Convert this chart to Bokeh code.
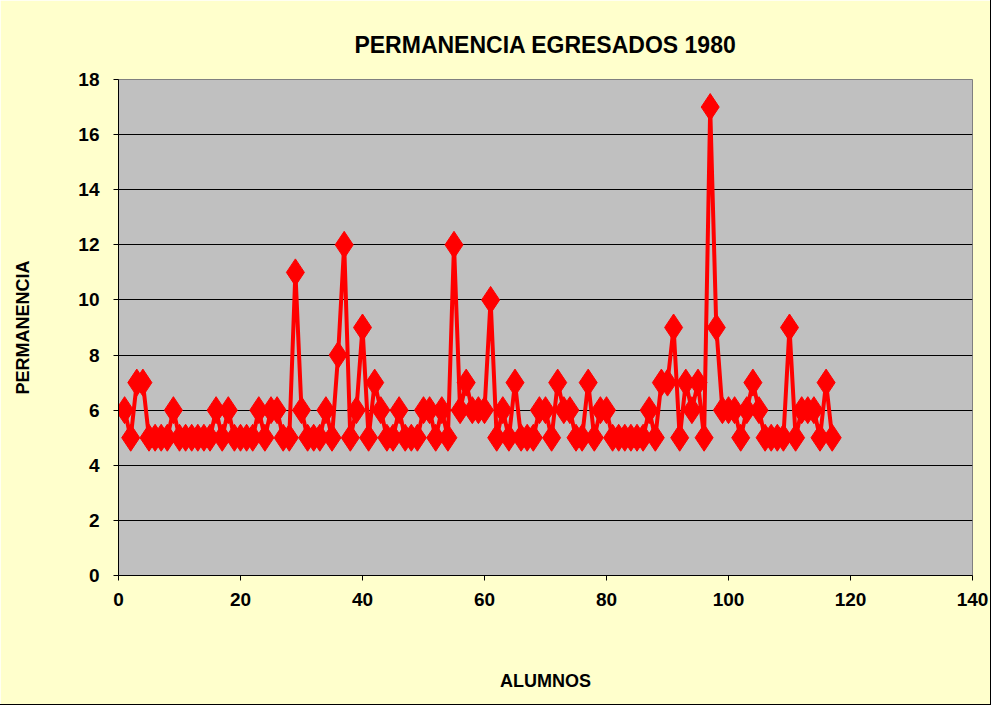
from bokeh.plotting import figure
from bokeh.models import Range1d, FixedTicker
from bokeh.embed import file_html
from bokeh.resources import INLINE

alumnos = list(range(1, 118))
permanencia = [
    6, 5, 7, 7, 5, 5, 5, 5, 6, 5,
    5, 5, 5, 5, 5, 6, 5, 6, 5, 5,
    5, 5, 6, 5, 6, 6, 5, 5, 11, 6,
    5, 5, 5, 6, 5, 8, 12, 5, 6, 9,
    5, 7, 6, 5, 5, 6, 5, 5, 5, 6,
    6, 5, 6, 5, 12, 6, 7, 6, 6, 6,
    10, 5, 6, 5, 7, 5, 5, 5, 6, 6,
    5, 7, 6, 6, 5, 5, 7, 5, 6, 6,
    5, 5, 5, 5, 5, 5, 6, 5, 7, 7,
    9, 5, 7, 6, 7, 5, 17, 9, 6, 6,
    6, 5, 6, 7, 6, 5, 5, 5, 5, 9,
    5, 6, 6, 6, 5, 7, 5,
]
x_ticks = [0, 20, 40, 60, 80, 100, 120, 140]
y_ticks = [0, 2, 4, 6, 8, 10, 12, 14, 16, 18]

FONT = "Liberation Sans"

p = figure(width=990, height=704, output_backend="svg", toolbar_location=None,
           x_range=Range1d(0, 140), y_range=Range1d(0, 18),
           min_border_left=118, min_border_right=18, min_border_top=79, min_border_bottom=129)

p.background_fill_color = "#C0C0C0"
p.border_fill_color = "#FFFFCC"
p.outline_line_color = "#808080"
p.outline_line_width = 1
p.styles = {"outline": "1px solid #000000"}

p.title.text = "PERMANENCIA EGRESADOS 1980"
p.title.text_font = FONT
p.title.text_font_size = "23px"
p.title.text_font_style = "bold"
p.title.text_color = "#000000"
p.title.align = "center"
p.title.offset = 0
p.title.standoff = 44

p.line(alumnos, permanencia, line_color="#FF0000", line_width=4)
p.scatter(alumnos, permanencia, marker="diamond", size=27, fill_color="#FF0000", line_color="#FF0000")

p.xgrid.grid_line_color = None
p.ygrid.grid_line_color = "#000000"
p.ygrid.grid_line_width = 1

for ax in (p.xaxis, p.yaxis):
    ax.axis_line_color = "#000000"
    ax.axis_line_width = 1
    ax.major_tick_line_color = "#000000"
    ax.major_tick_out = 5
    ax.major_tick_in = 0
    ax.minor_tick_line_color = None
    ax.major_label_text_font = FONT
    ax.major_label_text_font_size = "19px"
    ax.major_label_text_font_style = "bold"
    ax.major_label_text_color = "#000000"
    ax.axis_label_text_font = FONT
    ax.axis_label_text_font_size = "18px"
    ax.axis_label_text_font_style = "bold"
    ax.axis_label_text_color = "#000000"

p.xaxis.ticker = FixedTicker(ticks=x_ticks)
p.yaxis.ticker = FixedTicker(ticks=y_ticks)
p.xaxis.axis_label = "ALUMNOS"
p.yaxis.axis_label = "PERMANENCIA"
p.xaxis.major_label_standoff = 12
p.yaxis.major_label_standoff = 14
p.xaxis.axis_label_standoff = 62
p.yaxis.axis_label_standoff = 42

open("out.html", "w").write(file_html(p, INLINE))
